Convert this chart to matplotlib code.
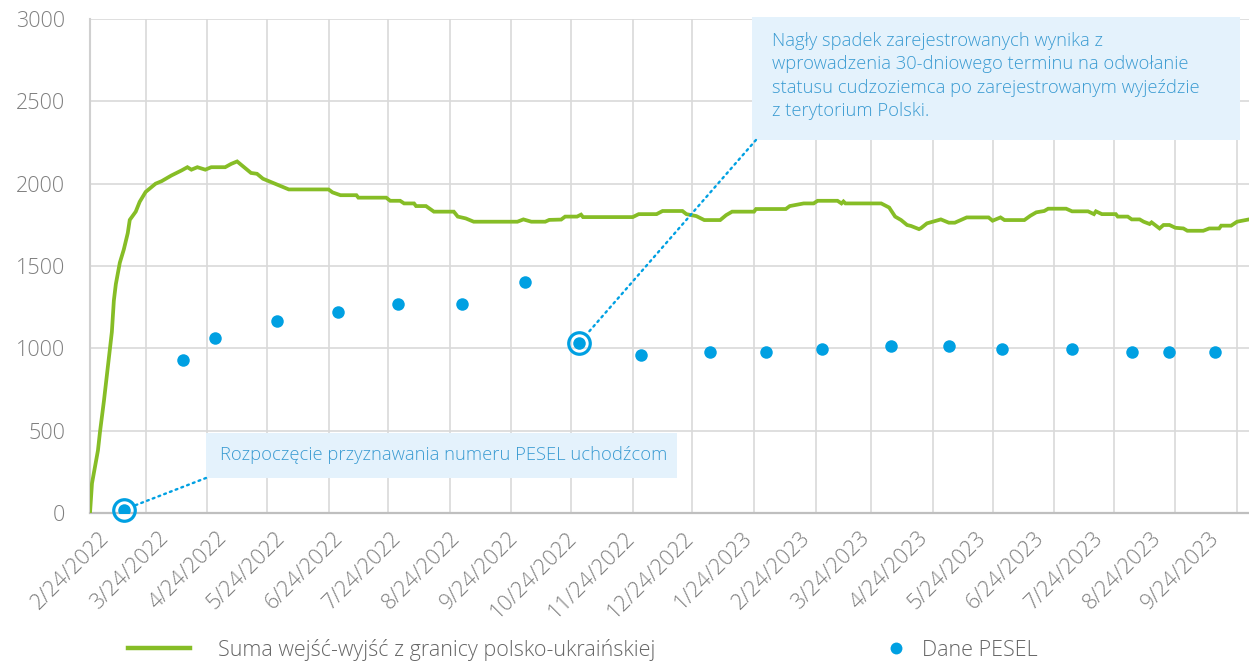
import numpy as np
import pandas as pd
import matplotlib
matplotlib.use("Agg")
import matplotlib.pyplot as plt
import matplotlib.dates as mdates
from matplotlib.patches import Rectangle

plt.rcParams['font.family'] = ['Open Sans', 'DejaVu Sans']
plt.rcParams['font.weight'] = 300

# Suma wejść-wyjść z granicy polsko-ukraińskiej (tys.)
border_dates = [
    "2022-02-24", "2022-02-25", "2022-02-28", "2022-03-01", "2022-03-03", "2022-03-05",
    "2022-03-07", "2022-03-08", "2022-03-09", "2022-03-11", "2022-03-13", "2022-03-15",
    "2022-03-16", "2022-03-19", "2022-03-21", "2022-03-24", "2022-03-29", "2022-04-01",
    "2022-04-06", "2022-04-11", "2022-04-14", "2022-04-16", "2022-04-19", "2022-04-23",
    "2022-04-26", "2022-05-03", "2022-05-06", "2022-05-09", "2022-05-13", "2022-05-16",
    "2022-05-19", "2022-05-22", "2022-05-27", "2022-05-31", "2022-06-04", "2022-06-24",
    "2022-06-26", "2022-06-30", "2022-07-08", "2022-07-09", "2022-07-23", "2022-07-25",
    "2022-07-30", "2022-08-01", "2022-08-06", "2022-08-07", "2022-08-12", "2022-08-16",
    "2022-08-26", "2022-08-28", "2022-09-01", "2022-09-05", "2022-09-27", "2022-09-30",
    "2022-10-04", "2022-10-11", "2022-10-13", "2022-10-19", "2022-10-21", "2022-10-27",
    "2022-10-29", "2022-10-30", "2022-11-24", "2022-11-27", "2022-12-06", "2022-12-09",
    "2022-12-19", "2022-12-21", "2022-12-26", "2022-12-30", "2023-01-07", "2023-01-10",
    "2023-01-13", "2023-01-24", "2023-01-25", "2023-02-09", "2023-02-11", "2023-02-18",
    "2023-02-23", "2023-02-25", "2023-03-07", "2023-03-09", "2023-03-10", "2023-03-11",
    "2023-03-29", "2023-04-02", "2023-04-05", "2023-04-08", "2023-04-11", "2023-04-13",
    "2023-04-17", "2023-04-18", "2023-04-21", "2023-04-24", "2023-04-28", "2023-05-02",
    "2023-05-05", "2023-05-08", "2023-05-11", "2023-05-22", "2023-05-24", "2023-05-28",
    "2023-05-30", "2023-06-09", "2023-06-12", "2023-06-15", "2023-06-19", "2023-06-21",
    "2023-06-30", "2023-07-03", "2023-07-11", "2023-07-14", "2023-07-15", "2023-07-18",
    "2023-07-25", "2023-07-26", "2023-07-31", "2023-08-02", "2023-08-06", "2023-08-08",
    "2023-08-11", "2023-08-12", "2023-08-16", "2023-08-18", "2023-08-21", "2023-08-24",
    "2023-08-28", "2023-08-30", "2023-09-07", "2023-09-10", "2023-09-15", "2023-09-16",
    "2023-09-21", "2023-09-24", "2023-09-30",
]
border_values = [
    0, 180, 380, 490, 680, 890,
    1100, 1290, 1390, 1520, 1600, 1700,
    1780, 1830, 1890, 1950, 2000, 2015,
    2050, 2080, 2100, 2085, 2100, 2085,
    2100, 2100, 2120, 2135, 2095, 2065,
    2060, 2030, 2005, 1985, 1965, 1965,
    1947, 1930, 1930, 1915, 1915, 1896,
    1896, 1880, 1880, 1864, 1864, 1830,
    1830, 1800, 1789, 1769, 1769, 1783,
    1769, 1769, 1780, 1782, 1800, 1800,
    1812, 1797, 1797, 1815, 1815, 1834,
    1834, 1815, 1803, 1779, 1779, 1809,
    1830, 1830, 1846, 1846, 1864, 1880,
    1880, 1896, 1896, 1880, 1892, 1880,
    1880, 1855, 1800, 1779, 1749, 1743,
    1724, 1730, 1759, 1769, 1783, 1763,
    1763, 1779, 1795, 1795, 1775, 1795,
    1779, 1779, 1805, 1826, 1834, 1848,
    1848, 1832, 1832, 1815, 1832, 1815,
    1815, 1800, 1800, 1783, 1783, 1769,
    1755, 1765, 1728, 1749, 1749, 1732,
    1728, 1714, 1714, 1728, 1728, 1745,
    1745, 1769, 1783,
]

# Dane PESEL
pesel_dates = [
    "2022-03-13", "2022-04-12", "2022-04-28", "2022-05-29", "2022-06-29", "2022-07-29",
    "2022-08-30", "2022-10-01", "2022-10-28", "2022-11-28", "2023-01-02", "2023-01-30",
    "2023-02-27", "2023-04-03", "2023-05-02", "2023-05-29", "2023-07-03", "2023-08-02",
    "2023-08-21", "2023-09-13",
]
pesel_values = [
    20, 930, 1062, 1166, 1220, 1269,
    1269, 1403, 1032, 962, 978, 978,
    996, 1013, 1013, 996, 996, 978,
    978, 978,
]
highlight = [0, 8]

tick_labels = [
    "2/24/2022", "3/24/2022", "4/24/2022", "5/24/2022", "6/24/2022", "7/24/2022",
    "8/24/2022", "9/24/2022", "10/24/2022", "11/24/2022", "12/24/2022", "1/24/2023",
    "2/24/2023", "3/24/2023", "4/24/2023", "5/24/2023", "6/24/2023", "7/24/2023",
    "8/24/2023", "9/24/2023",
]

note1 = "Rozpoczęcie przyznawania numeru PESEL uchodźcom"
note2 = ("Nagły spadek zarejestrowanych wynika z\n"
         "wprowadzenia 30-dniowego terminu na odwołanie\n"
         "statusu cudzoziemca po zarejestrowanym wyjeździe\n"
         "z terytorium Polski.")

green = '#86BD26'
blue = '#00A0E2'
note_blue = '#3A9BD2'
box_fill = '#E4F2FC'
grey_txt = '#7F7F7F'

bd = pd.to_datetime(border_dates)
pd_ = pd.to_datetime(pesel_dates)
pv = np.array(pesel_values)
grid_dates = pd.to_datetime([pd.Timestamp(l) for l in tick_labels])

fig = plt.figure(figsize=(12.49, 6.61), dpi=100)
ax = fig.add_axes([90 / 1249, 1 - 513 / 661, 1159 / 1249, 494 / 661])

ax.plot(bd, border_values, color=green, lw=2.7, solid_joinstyle='miter',
        label='Suma wejść-wyjść z granicy polsko-ukraińskiej', zorder=3)
ax.plot(pd_, pv, 'o', color=blue, ms=9, mec='none', label='Dane PESEL', zorder=4)
ax.plot(pd_[highlight], pv[highlight], 'o', ms=15.5, mfc='none', mec=blue, mew=2.3,
        zorder=4, clip_on=False)

x0 = pd.Timestamp("2022-02-24")
x1 = pd.Timestamp("2023-09-30")
ax.set_xlim(x0, x1)
ax.set_ylim(0, 3000)

ax.set_yticks(np.arange(0, 3001, 500))
ax.tick_params(axis='y', length=0, pad=18, labelsize=15.5, labelcolor=grey_txt)

ax.set_xticks(grid_dates)
ax.set_xticklabels([])
ax.tick_params(axis='x', which='major', length=0)
lab_pos = mdates.date2num(x0) + np.linspace(8.3, 566.7, len(tick_labels))
ax.set_xticks(lab_pos, labels=tick_labels, minor=True)
ax.tick_params(axis='x', which='minor', length=0, pad=16, labelsize=15.5, labelcolor=grey_txt)
for lbl in ax.get_xticklabels(minor=True):
    lbl.set_rotation(45)
    lbl.set_ha('right')
    lbl.set_va('center')
    lbl.set_rotation_mode('anchor')

ax.grid(True, which='major', color='#D9D9D9', lw=1.2)
ax.set_axisbelow(True)
for s in ['top', 'right']:
    ax.spines[s].set_visible(False)
ax.spines['left'].set_color('#D0D0D0')
ax.spines['left'].set_linewidth(1.5)
ax.spines['bottom'].set_color('#BFBFBF')
ax.spines['bottom'].set_linewidth(1.6)

# annotation boxes
ax.add_patch(Rectangle((0.1001, 0.0709), 0.4064, 0.0911, transform=ax.transAxes,
                       fc=box_fill, ec='none', zorder=5, clip_on=False))
ax.text(0.1122, 0.1164, note1, transform=ax.transAxes, ha='left', va='center',
        fontsize=13.2, color=note_blue, zorder=6)
ax.add_patch(Rectangle((0.5712, 0.7551), 0.4211, 0.249, transform=ax.transAxes,
                       fc=box_fill, ec='none', zorder=5, clip_on=False))
ax.text(0.5884, 0.8846, note2, transform=ax.transAxes, ha='left', va='center',
        fontsize=13.2, color=note_blue, linespacing=1.4, zorder=6)

conn = dict(arrowstyle='-', color=blue, lw=1.7, linestyle=(0, (0.8, 1.8)),
            capstyle='round', shrinkA=0, shrinkB=9)
ax.annotate('', xy=(pd_[0], pv[0]), xytext=(0.1001, 0.0709), textcoords='axes fraction',
            arrowprops=conn, zorder=5, annotation_clip=False)
ax.annotate('', xy=(pd_[8], pv[8]), xytext=(0.5746, 0.7551), textcoords='axes fraction',
            arrowprops=conn, zorder=5, annotation_clip=False)

h, l = ax.get_legend_handles_labels()
leg1 = fig.legend([h[0]], [l[0]], loc='center left', bbox_to_anchor=(128 / 1249, 1 - 650 / 661),
                  frameon=False, fontsize=15.5, handlelength=2.9, handletextpad=1.3,
                  borderpad=0, borderaxespad=0, labelcolor='#666666')
leg1.get_lines()[0].set_linewidth(3.2)
fig.legend([h[1]], [l[1]], loc='center left', bbox_to_anchor=(885 / 1249, 1 - 650 / 661),
           frameon=False, fontsize=15.5, handlelength=1.0, handletextpad=0.72,
           borderpad=0, borderaxespad=0, labelcolor='#666666', markerscale=0.95)

fig.savefig('out.png', dpi=100)
